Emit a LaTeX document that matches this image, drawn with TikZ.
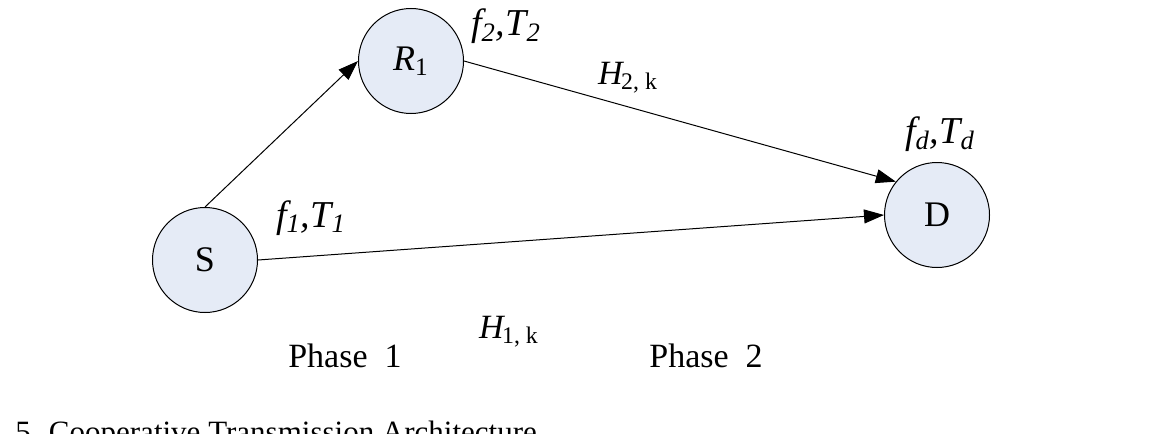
\documentclass[tikz,border=0pt]{standalone}
\usepackage{fontspec}
\setmainfont{Liberation Serif}
\usetikzlibrary{arrows.meta,positioning}
\definecolor{nodeblue}{RGB}{229,235,246}

\begin{document}
\begin{tikzpicture}[
  x=0.5pt,
  y=-0.5pt,
  >={Triangle[length=10pt,width=7pt]},
  station/.style={circle, draw=black, line width=0.5pt, fill=nodeblue,
    minimum size=52.5pt, inner sep=0pt, font=\fontsize{18}{20}\selectfont},
  link/.style={->, line width=0.5pt, draw=black},
  param/.style={font=\fontsize{19}{21}\selectfont\itshape, inner sep=0pt},
  chan/.style={font=\fontsize{17}{19}\selectfont, inner sep=0pt},
  phase/.style={font=\fontsize{17}{19}\selectfont, inner sep=0pt},
  caption/.style={font=\fontsize{15.5}{17}\selectfont, inner sep=0pt}
]
\useasboundingbox (0,0) rectangle (1149,433);

\node[station] (S) at (205,260) {S};
\node[station] (R1) at (411,61) {\textit{R}\textsubscript{1}};
\node[station] (D) at (937,215) {D};

\draw[link] (S.north) -- (R1.west);
\draw[link] (R1.east) -- (D.141);
\draw[link] (S.east) -- (D.west);

\node[param] (p2) at (506,26) {f\textsubscript{2},T\textsubscript{2}};
\node[param] (pd) at (940,134) {f\textsubscript{d},T\textsubscript{d}};
\node[param] (p1) at (311,218) {f\textsubscript{1},T\textsubscript{1}};

\node[chan] (h2) at (628,78) {\textit{H}\kern-1.5pt\textsubscript{2, k}};
\node[chan] (h1) at (509,332) {\textit{H}\kern-1.5pt\textsubscript{1, k}};

\node[phase] (ph1) at (345,356) {Phase\ \ 1};
\node[phase] (ph2) at (706,356) {Phase\ \ 2};

\node[caption, anchor=base west] (cap) at (15,442)
  {5. Cooperative Transmission Architecture};

\end{tikzpicture}
\end{document}
